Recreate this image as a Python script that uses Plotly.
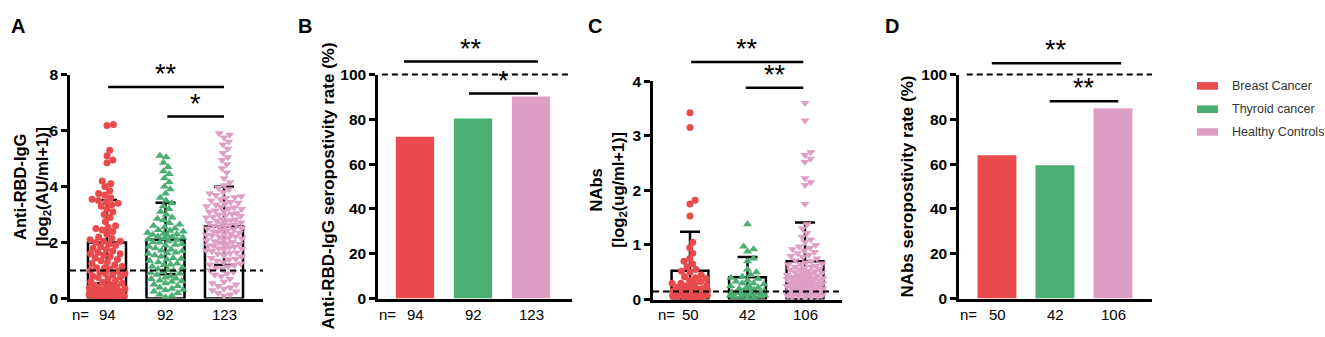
import math
import plotly.graph_objects as go

W, H = 1325, 337
FONT = "Liberation Sans, Arial, sans-serif"

# ---------------- data ----------------
groups = ["Breast Cancer", "Thyroid cancer", "Healthy Controls"]
colors = ["#E84A4D", "#4BAE72", "#DF9FC4"]

a_breast = [6.22, 6.18, 5.3, 5.1, 4.95, 4.85, 4.2, 4.1, 4.0, 3.85,
            3.75, 3.7, 3.6, 3.55, 3.5, 3.45, 3.4, 3.35, 3.3, 3.2,
            3.1, 3.0, 2.9, 2.75, 2.6, 2.5, 2.45, 2.4, 2.3, 2.2,
            2.15, 2.1, 2.05, 2.0, 1.95, 1.9, 1.85, 1.8, 1.75, 1.7,
            1.65, 1.6, 1.55, 1.5, 1.45, 1.4, 1.35, 1.3, 1.25, 1.2,
            1.15, 1.1, 1.05, 1.0, 0.98, 0.95, 0.9, 0.85, 0.8, 0.78,
            0.75, 0.7, 0.65, 0.6, 0.58, 0.55, 0.5, 0.48, 0.45, 0.42,
            0.4, 0.38, 0.35, 0.32, 0.3, 0.28, 0.25, 0.22, 0.2, 0.18,
            0.15, 0.12, 0.1, 0.08, 0.05, 0.03, 0.02, 0.0, 2.05, 1.6,
            1.1, 0.9, 0.35, 2.55]
a_thyroid = [5.1, 5.05, 4.85, 4.7, 4.55, 4.45, 4.3, 4.15, 4.0, 3.9,
             3.75, 3.6, 3.5, 3.4, 3.3, 3.2, 3.1, 3.0, 2.9, 2.85,
             2.8, 2.7, 2.65, 2.6, 2.55, 2.5, 2.45, 2.4, 2.35, 2.3,
             2.28, 2.25, 2.2, 2.18, 2.15, 2.12, 2.1, 2.05, 2.0, 1.95,
             1.9, 1.85, 1.8, 1.75, 1.7, 1.65, 1.6, 1.55, 1.5, 1.45,
             1.4, 1.35, 1.3, 1.25, 1.2, 1.15, 1.1, 1.05, 1.0, 0.95,
             0.9, 0.85, 0.8, 0.75, 0.7, 0.65, 0.6, 0.55, 0.5, 0.45,
             0.4, 0.35, 0.3, 0.25, 0.2, 0.15, 0.1, 0.05, 2.22, 2.32,
             1.92, 1.62, 1.22, 0.92, 0.62, 0.32, 2.42, 2.02, 1.72, 1.42,
             1.02, 0.72]
a_healthy = [5.9, 5.85, 5.75, 5.6, 5.5, 5.35, 5.2, 5.05, 4.95, 4.8,
             4.65, 4.5, 4.3, 4.15, 4.05, 3.95, 3.9, 3.8, 3.75, 3.7,
             3.65, 3.6, 3.55, 3.5, 3.45, 3.4, 3.35, 3.3, 3.28, 3.25,
             3.2, 3.15, 3.1, 3.05, 3.0, 2.98, 2.95, 2.9, 2.85, 2.8,
             2.78, 2.75, 2.7, 2.68, 2.65, 2.6, 2.58, 2.55, 2.5, 2.48,
             2.45, 2.4, 2.38, 2.35, 2.3, 2.28, 2.25, 2.2, 2.18, 2.15,
             2.1, 2.08, 2.05, 2.0, 1.98, 1.95, 1.9, 1.88, 1.85, 1.8,
             1.78, 1.75, 1.7, 1.65, 1.6, 1.55, 1.5, 1.45, 1.4, 1.35,
             1.3, 1.25, 1.2, 1.15, 1.1, 1.05, 1.0, 0.95, 0.9, 0.85,
             0.8, 0.7, 0.6, 0.5, 0.45, 0.4, 0.35, 0.3, 0.25, 0.2,
             0.15, 0.1, 3.62, 3.42, 3.22, 3.02, 2.82, 2.62, 2.42, 2.22,
             2.02, 1.82, 1.62, 1.42, 1.22, 2.72, 2.52, 2.32, 3.12, 2.92,
             1.92, 1.72, 0.55]
a_mean = [2.0, 2.1, 2.57]
a_sd_up = [1.52, 1.32, 1.42]
a_sd_down = [1.45, 1.23, 1.37]
a_n = ["94", "92", "123"]
a_cutoff = 1.0

b_rate = [72.2, 80.4, 90.2]
b_n = ["94", "92", "123"]

c_breast = [3.42, 3.15, 1.82, 1.75, 1.53, 1.05, 0.95, 0.85, 0.75, 0.7,
            0.65, 0.6, 0.55, 0.52, 0.5, 0.45, 0.42, 0.4, 0.38, 0.35,
            0.33, 0.3, 0.28, 0.26, 0.25, 0.23, 0.22, 0.2, 0.19, 0.18,
            0.17, 0.16, 0.15, 0.14, 0.13, 0.12, 0.11, 0.1, 0.09, 0.08,
            0.07, 0.06, 0.05, 0.05, 0.04, 0.03, 0.2, 0.3, 0.15, 0.1]
c_thyroid = [1.38, 0.97, 0.92, 0.88, 0.75, 0.7, 0.55, 0.5, 0.45, 0.42,
             0.4, 0.38, 0.35, 0.33, 0.3, 0.28, 0.25, 0.22, 0.2, 0.18,
             0.17, 0.16, 0.15, 0.14, 0.13, 0.12, 0.11, 0.1, 0.09, 0.08,
             0.07, 0.06, 0.05, 0.05, 0.04, 0.03, 0.2, 0.15, 0.1, 0.25,
             0.3, 0.12]
c_healthy = [3.6, 3.28, 2.7, 2.65, 2.58, 2.52, 2.22, 2.15, 2.1, 1.75,
             1.38, 1.3, 1.22, 1.15, 1.1, 1.05, 1.0, 0.97, 0.95, 0.92,
             0.9, 0.87, 0.85, 0.82, 0.8, 0.78, 0.75, 0.72, 0.7, 0.68,
             0.66, 0.64, 0.62, 0.6, 0.58, 0.56, 0.55, 0.53, 0.52, 0.5,
             0.49, 0.48, 0.46, 0.45, 0.44, 0.42, 0.41, 0.4, 0.39, 0.38,
             0.37, 0.36, 0.35, 0.34, 0.33, 0.32, 0.31, 0.3, 0.29, 0.28,
             0.27, 0.26, 0.25, 0.24, 0.23, 0.22, 0.21, 0.2, 0.19, 0.18,
             0.17, 0.16, 0.15, 0.14, 0.13, 0.12, 0.11, 0.1, 0.09, 0.08,
             0.07, 0.06, 0.05, 0.05, 0.04, 0.03, 0.5, 0.45, 0.4, 0.35,
             0.3, 0.25, 0.2, 0.15, 0.1, 0.6, 0.55, 0.38, 0.33, 0.28,
             0.22, 0.18, 0.12, 0.08, 0.42, 0.65]
c_mean = [0.53, 0.41, 0.70]
c_sd = [0.71, 0.37, 0.71]
c_n = ["50", "42", "106"]
c_cutoff = 0.15

d_rate = [64.0, 59.5, 84.9]
d_n = ["50", "42", "106"]

# ---------------- layout helpers (pixel boxes) ----------------
panels = {
    1: dict(x0=70, x1=263, ytop=69, ybot=305, c0=107, step=58.5, ymax=8, dtick=2, bw=0.65),
    2: dict(x0=378, x1=572, ytop=69, ybot=305, c0=415, step=58, ymax=100, dtick=20, bw=0.66),
    3: dict(x0=653, x1=842, ytop=76, ybot=306, c0=690, step=57.5, ymax=4, dtick=1, bw=0.64),
    4: dict(x0=959, x1=1152, ytop=69, ybot=305, c0=997, step=58, ymax=100, dtick=20, bw=0.67),
}


def px(x):
    return x / W


def py(y):
    return 1 - y / H


def swarm(vals, ppu, ppc, d=6.5, maxw=18):
    order = sorted(range(len(vals)), key=lambda i: vals[i])
    placed = []
    offs = [0.0] * len(vals)
    for i in order:
        y = vals[i] * ppu
        chosen = None
        for sc in (1.0, 0.85, 0.7, 0.55, 0.4, 0.25, 0.1):
            dd = d * sc
            near = [(qx, qy) for qx, qy in placed if abs(qy - y) < dd]
            cands = [0.0]
            for qx, qy in near:
                dx = math.sqrt(max(dd * dd - (qy - y) ** 2, 0))
                cands += [qx + dx, qx - dx]
            cands.sort(key=abs)
            for c in cands:
                if abs(c) > maxw:
                    break
                if all((c - qx) ** 2 + (y - qy) ** 2 >= dd * dd - 1e-6 for qx, qy in near):
                    chosen = c
                    break
            if chosen is not None:
                break
        if chosen is None:
            chosen = 0.0
        placed.append((chosen, y))
        offs[i] = chosen
    return [o / ppc for o in offs]


fig = go.Figure()
layout = dict(
    width=W, height=H, margin=dict(l=0, r=0, t=0, b=0),
    paper_bgcolor="white", plot_bgcolor="white", showlegend=False,
    font=dict(family=FONT, color="black"),
)
shapes = []
annotations = []

for k, p in panels.items():
    xs = "" if k == 1 else str(k)
    left = (p["x0"] - p["c0"]) / p["step"]
    right = (p["x1"] - p["c0"]) / p["step"]
    layout["xaxis" + xs] = dict(
        domain=[px(p["x0"]), px(p["x1"])], range=[left, right], anchor="y" + xs,
        showline=True, linecolor="black", linewidth=2.5, ticks="", showticklabels=False,
        showgrid=False, zeroline=False, fixedrange=True,
    )
    layout["yaxis" + xs] = dict(
        domain=[py(p["ybot"]), py(p["ytop"])], range=[0, p["ymax"]], anchor="x" + xs,
        showline=True, linecolor="black", linewidth=2.5, ticks="outside", ticklen=6,
        tickwidth=2.5, tickcolor="black", dtick=p["dtick"], tick0=0,
        tickfont=dict(family=FONT, size=15.5, weight="bold", color="black"),
        showgrid=False, zeroline=False, fixedrange=True,
    )

cats = [0, 1, 2]

# ---- Panel A ----
p = panels[1]
fig.add_trace(go.Bar(x=cats, y=a_mean, width=p["bw"], xaxis="x", yaxis="y",
                     marker=dict(color="rgba(255,255,255,0)", line=dict(color="black", width=2.5))))
fig.add_trace(go.Scatter(x=cats, y=a_mean, mode="markers", xaxis="x", yaxis="y",
                         marker=dict(size=1, opacity=0),
                         error_y=dict(type="data", symmetric=False, array=a_sd_up, arrayminus=a_sd_down,
                                      color="black", thickness=2.5, width=10)))
ppu = (p["ybot"] - p["ytop"]) / p["ymax"]
for i, (vals, sym, sz) in enumerate([(a_breast, "circle", 7), (a_thyroid, "triangle-up", 8),
                                     (a_healthy, "triangle-down", 8)]):
    offs = swarm(vals, ppu, p["step"])
    fig.add_trace(go.Scatter(x=[i + o for o in offs], y=vals, mode="markers", xaxis="x", yaxis="y",
                             cliponaxis=False,
                             marker=dict(symbol=sym, size=sz, color=colors[i], line=dict(width=0))))

# ---- Panel B ----
p = panels[2]
fig.add_trace(go.Bar(x=cats, y=b_rate, width=p["bw"], xaxis="x2", yaxis="y2",
                     marker=dict(color=colors, line=dict(width=0))))

# ---- Panel C ----
p = panels[3]
fig.add_trace(go.Bar(x=cats, y=c_mean, width=p["bw"], xaxis="x3", yaxis="y3",
                     marker=dict(color="rgba(255,255,255,0)", line=dict(color="black", width=2.5))))
fig.add_trace(go.Scatter(x=cats, y=c_mean, mode="markers", xaxis="x3", yaxis="y3",
                         marker=dict(size=1, opacity=0),
                         error_y=dict(type="data", symmetric=False, array=c_sd,
                                      arrayminus=[min(s, m) for s, m in zip(c_sd, c_mean)],
                                      color="black", thickness=2.5, width=10)))
ppu = (p["ybot"] - p["ytop"]) / p["ymax"]
for i, (vals, sym, sz) in enumerate([(c_breast, "circle", 7), (c_thyroid, "triangle-up", 8),
                                     (c_healthy, "triangle-down", 8)]):
    offs = swarm(vals, ppu, p["step"])
    fig.add_trace(go.Scatter(x=[i + o for o in offs], y=vals, mode="markers", xaxis="x3", yaxis="y3",
                             cliponaxis=False,
                             marker=dict(symbol=sym, size=sz, color=colors[i], line=dict(width=0))))

# ---- Panel D ----
p = panels[4]
fig.add_trace(go.Bar(x=cats, y=d_rate, width=p["bw"], xaxis="x4", yaxis="y4",
                     marker=dict(color=colors, line=dict(width=0))))

# ---- cutoff dashed lines ----
DASH = "6px,4px"
shapes.append(dict(type="line", xref="x domain", yref="y", x0=0, x1=1, y0=a_cutoff, y1=a_cutoff,
                   line=dict(color="black", width=2, dash=DASH)))
shapes.append(dict(type="line", xref="x3 domain", yref="y3", x0=0, x1=1, y0=c_cutoff, y1=c_cutoff,
                   line=dict(color="black", width=2, dash=DASH)))
shapes.append(dict(type="line", xref="x2 domain", yref="y2 domain", x0=0.02, x1=0.98, y0=1, y1=1,
                   line=dict(color="black", width=2, dash=DASH)))
shapes.append(dict(type="line", xref="x4 domain", yref="y4 domain", x0=0.04, x1=1.0, y0=1, y1=1,
                   line=dict(color="black", width=2, dash=DASH)))

# ---- significance brackets: (panel, x_start, x_end, level, label) ----
sig = [
    (1, 0.02, 2.0, 7.55, "**"), (1, 1.03, 2.0, 6.5, "*"),
    (2, -0.19, 2.12, 105.8, "**"), (2, 0.93, 2.12, 91.5, "*"),
    (3, 0.02, 1.97, 4.35, "**"), (3, 0.97, 1.97, 3.88, "**"),
    (4, -0.09, 2.14, 105.0, "**"), (4, 0.91, 2.09, 88.1, "**"),
]
for k, xa, xb, lev, lab in sig:
    xs = "" if k == 1 else str(k)
    yd = lev / panels[k]["ymax"]
    shapes.append(dict(type="line", xref="x" + xs, yref="y" + xs + " domain", x0=xa, x1=xb, y0=yd, y1=yd,
                       line=dict(color="black", width=2.5)))
    annotations.append(dict(xref="x" + xs, yref="y" + xs + " domain", x=(xa + xb) / 2, y=yd,
                            text=lab, showarrow=False, yanchor="bottom", xanchor="center", yshift=-4,
                            font=dict(family=FONT, size=27, color="black")))

# ---- n labels ----
for k, ns in [(1, a_n), (2, b_n), (3, c_n), (4, d_n)]:
    xs = "" if k == 1 else str(k)
    for i, t in enumerate(ns):
        annotations.append(dict(xref="x" + xs, yref="paper", x=i, y=py(322), text=t, showarrow=False,
                                xanchor="center", yanchor="middle",
                                font=dict(family=FONT, size=15, color="black")))
for xpix in (80, 387, 666, 968):
    annotations.append(dict(xref="paper", yref="paper", x=px(xpix), y=py(322), text="n=", showarrow=False,
                            xanchor="center", yanchor="middle",
                            font=dict(family=FONT, size=15, color="black")))

# ---- axis titles ----
titles = [
    (32, 1, "Anti-RBD-IgG<br>[log<sub>2</sub>(AU/ml+1)]"),
    (329, 2, "Anti-RBD-IgG seropostivity rate (%)"),
    (608.5, 3, "NAbs<br>[log<sub>2</sub>(ug/ml+1)]"),
    (908, 4, "NAbs seropostivity rate (%)"),
]
for xpix, k, t in titles:
    p = panels[k]
    annotations.append(dict(xref="paper", yref="paper", x=px(xpix), y=py((p["ytop"] + p["ybot"]) / 2),
                            text=t, textangle=-90, showarrow=False, xanchor="center", yanchor="middle",
                            font=dict(family=FONT, size=16.5 if "<br>" in t else 17,
                                      weight="bold", color="black")))

# ---- panel letters ----
for xpix, t in [(17.5, "A"), (305, "B"), (595, "C"), (892, "D")]:
    annotations.append(dict(xref="paper", yref="paper", x=px(xpix), y=py(18), text=t, showarrow=False,
                            xanchor="center", yanchor="middle",
                            font=dict(family=FONT, size=20, weight="bold", color="black")))

# ---- legend (manual) ----
for i, (g, ypix) in enumerate(zip(groups, [81, 105.5, 129.5])):
    shapes.append(dict(type="rect", xref="paper", yref="paper", x0=px(1197), x1=px(1218),
                       y0=py(ypix + 4), y1=py(ypix - 4), fillcolor=colors[i], line=dict(width=0)))
    annotations.append(dict(xref="paper", yref="paper", x=px(1230), y=py(ypix), text=g, showarrow=False,
                            xanchor="left", yanchor="middle",
                            font=dict(family=FONT, size=12.5, color="#333333")))

layout["shapes"] = shapes
layout["annotations"] = annotations
fig.update_layout(**layout)
fig.write_html("out.html", config={"displayModeBar": False},
               post_script="document.body.style.margin='0px';")
